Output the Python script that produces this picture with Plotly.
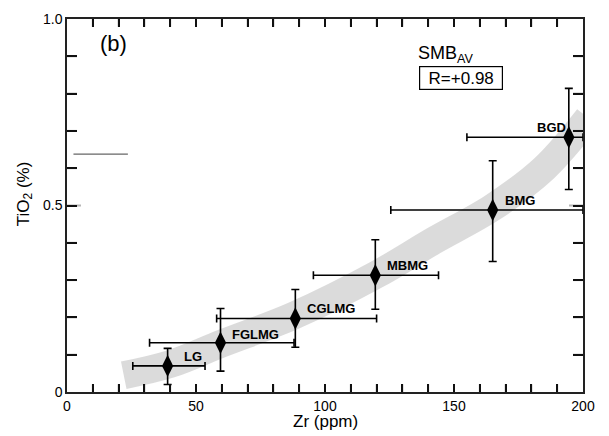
import plotly.graph_objects as go

# ---- data ----
names = ["LG", "FGLMG", "CGLMG", "MBMG", "BMG", "BGD"]
zr = [39, 59.5, 88.5, 119.5, 165, 194.5]
tio2 = [0.07, 0.132, 0.197, 0.313, 0.488, 0.683]
zr_lo = [25.5, 32, 58, 95.5, 125.5, 155]
zr_hi = [53.5, 88, 120, 144, 200, 200]
ti_lo = [0.02, 0.056, 0.12, 0.222, 0.35, 0.543]
ti_hi = [0.117, 0.224, 0.275, 0.408, 0.62, 0.814]
label_x = [44.4, 63.2, 92.2, 123.3, 168.9, 181.4]
label_y = [0.096, 0.154, 0.223, 0.338, 0.514, 0.709]
band_x = [22, 40, 60, 88, 120, 142, 165, 185, 202]
band_y = [0.045, 0.075, 0.13, 0.205, 0.315, 0.405, 0.495, 0.6, 0.735]
stray_x = [2.5, 23.6]
stray_y = [0.638, 0.638]
x_range = [0, 200]
y_range = [0, 1.0]
x_tick_step = 10
y_tick_step = 0.1
# tick labels shown (others are unlabeled minor ticks)
x_tick_labels = {"10": "", "20": "", "30": "", "40": "", "60": "", "70": "", "80": "",
                 "90": "", "110": "", "120": "", "130": "", "140": "", "160": "",
                 "170": "", "180": "", "190": ""}
y_tick_labels = {"0.1": "", "0.2": "", "0.3": "", "0.4": "", "0.6": "", "0.7": "",
                 "0.8": "", "0.9": "", "1": "1.0"}

FONT = "Liberation Sans"
PLOT_W, PLOT_H = 516, 381  # plot area in px

fig = go.Figure()

# gray trend band
fig.add_trace(go.Scatter(
    x=band_x, y=band_y, mode="lines",
    line=dict(color="rgba(190,190,190,0.55)", width=28, shape="spline"),
    hoverinfo="skip", showlegend=False))

# stray scan line
fig.add_trace(go.Scatter(
    x=stray_x, y=stray_y, mode="lines",
    line=dict(color="#666666", width=1.2),
    hoverinfo="skip", showlegend=False))

# points with error bars
fig.add_trace(go.Scatter(
    x=zr, y=tio2, mode="markers",
    marker=dict(symbol="diamond-tall", size=16, color="black"),
    error_x=dict(type="data", symmetric=False,
                 array=[h - v for h, v in zip(zr_hi, zr)],
                 arrayminus=[v - l for l, v in zip(zr_lo, zr)],
                 color="black", thickness=1.6, width=4),
    error_y=dict(type="data", symmetric=False,
                 array=[h - v for h, v in zip(ti_hi, tio2)],
                 arrayminus=[v - l for l, v in zip(ti_lo, tio2)],
                 color="black", thickness=1.6, width=4),
    showlegend=False))

# inside tick marks on all four sides as layout shapes (derived from tick spacing)
xs_per_px = (x_range[1] - x_range[0]) / PLOT_W
ys_per_px = (y_range[1] - y_range[0]) / PLOT_H
tick_line = dict(color="#111111", width=2)
shapes = []
nx = int(round((x_range[1] - x_range[0]) / x_tick_step))
for i in range(1, nx):
    v = x_range[0] + i * x_tick_step
    shapes.append(dict(type="line", xref="x", yref="y", x0=v, x1=v,
                       y0=y_range[0], y1=y_range[0] + 8 * ys_per_px, line=tick_line))
    shapes.append(dict(type="line", xref="x", yref="y", x0=v, x1=v,
                       y0=y_range[1], y1=y_range[1] - 8 * ys_per_px, line=tick_line))
ny = int(round((y_range[1] - y_range[0]) / y_tick_step))
for j in range(1, ny):
    v = y_range[0] + j * y_tick_step
    ln = 14 if j == ny // 2 else 10
    shapes.append(dict(type="line", xref="x", yref="y", y0=v, y1=v,
                       x0=x_range[0], x1=x_range[0] + ln * xs_per_px, line=tick_line))
    shapes.append(dict(type="line", xref="x", yref="y", y0=v, y1=v,
                       x0=x_range[1], x1=x_range[1] - ln * xs_per_px, line=tick_line))

annotations = []
for n, lx, ly in zip(names, label_x, label_y):
    annotations.append(dict(x=lx, y=ly, xref="x", yref="y", text="<b>" + n + "</b>",
                            showarrow=False, xanchor="left", yanchor="middle",
                            font=dict(family=FONT, size=13, color="black")))

annotations += [
    dict(x=18.2, y=0.935, xref="x", yref="y", text="(b)", showarrow=False,
         font=dict(family=FONT, size=22, color="black")),
    dict(x=135.3, y=0.905, xref="x", yref="y", text="SMB<sub>AV</sub>", showarrow=False,
         xanchor="left", yanchor="middle", font=dict(family=FONT, size=18, color="black")),
    dict(x=152.7, y=0.842, xref="x", yref="y", text="R=+0.98", showarrow=False,
         xanchor="center", yanchor="middle", width=80, height=20, borderpad=1,
         bordercolor="black", borderwidth=1.2, bgcolor="white",
         font=dict(family=FONT, size=17, color="black")),
    dict(x=0.5, y=-0.08, xref="paper", yref="paper", text="Zr (ppm)", showarrow=False,
         xanchor="center", yanchor="middle", font=dict(family=FONT, size=17, color="black")),
    dict(x=-0.0814, y=0.533, xref="paper", yref="paper", text="TiO<sub>2</sub> (%)",
         showarrow=False, textangle=-90, xanchor="center", yanchor="middle",
         font=dict(family=FONT, size=17, color="black")),
]

fig.update_layout(
    template="simple_white",
    width=609, height=436,
    margin=dict(l=67, r=26, t=11, b=44),
    paper_bgcolor="white", plot_bgcolor="white",
    font=dict(family=FONT, size=14, color="black"),
    annotations=annotations,
    shapes=shapes,
    xaxis=dict(range=x_range, dtick=x_tick_step,
               labelalias=x_tick_labels,
               ticks="inside", ticklen=8, tickwidth=2, tickcolor="#111111",
               showline=True, linecolor="#222222", linewidth=1.5, mirror="allticks",
               showgrid=False, zeroline=False, tickfont=dict(size=14)),
    yaxis=dict(range=y_range, dtick=y_tick_step,
               labelalias=y_tick_labels,
               ticks="inside", ticklen=10, tickwidth=2, tickcolor="#111111",
               showline=True, linecolor="#222222", linewidth=1.5, mirror="allticks",
               showgrid=False, zeroline=False, tickfont=dict(size=14)),
)

fig.write_html("out.html")
